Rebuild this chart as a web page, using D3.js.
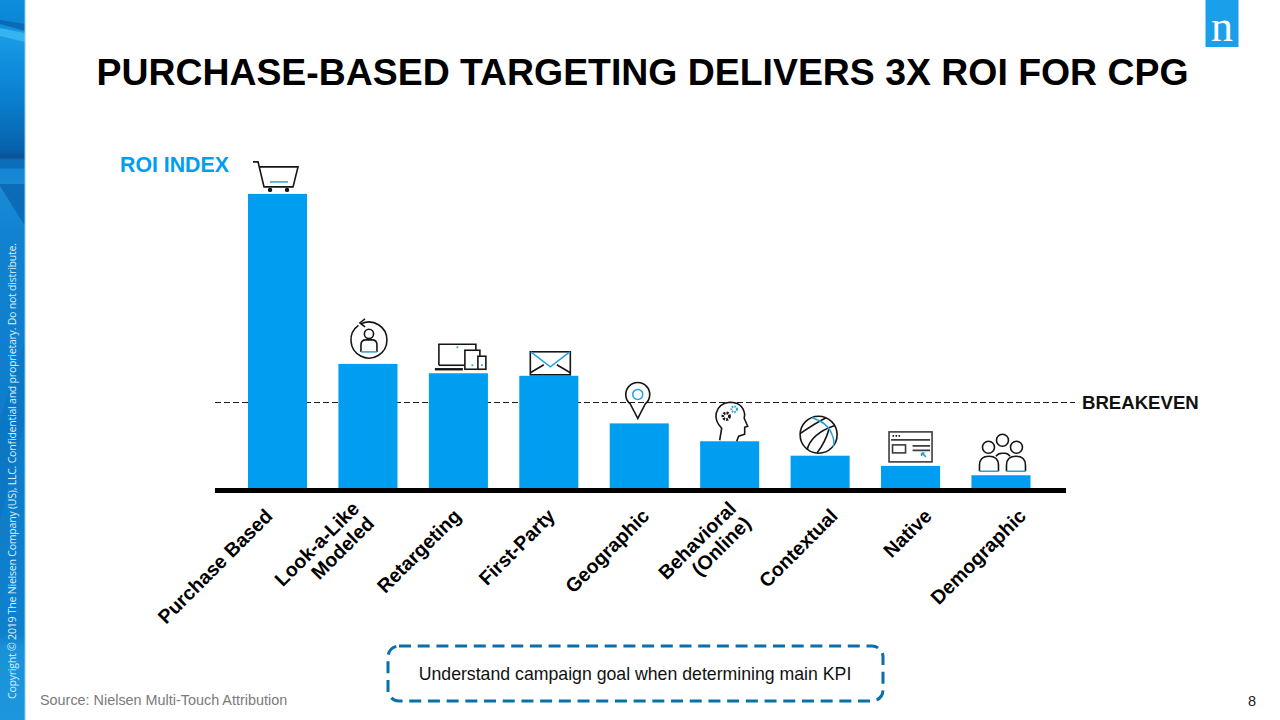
<!DOCTYPE html>
<html>
<head>
<meta charset="utf-8">
<script src="https://cdn.jsdelivr.net/npm/d3@7"></script>
<style>
html,body{margin:0;padding:0;background:#fff;}
svg{display:block;}
text{font-family:"Liberation Sans",Arial,sans-serif;}
</style>
</head>
<body>
<svg id="chart" width="1280" height="720"></svg>
<script>
// ROI index per targeting type; breakeven sits at 100
const categories = ["Purchase Based","Look-a-Like Modeled","Retargeting","First-Party","Geographic","Behavioral (Online)","Contextual","Native","Demographic"];
const roiValues = [346,146,135,132,76,55,38,26,15];
const categoryLines = [["Purchase Based"],["Look-a-Like","Modeled"],["Retargeting"],["First-Party"],["Geographic"],["Behavioral","(Online)"],["Contextual"],["Native"],["Demographic"]];
const iconNames = ["cart","person","devices","mail","pin","head","ball","page","group"];
const breakeven = 100;

const BLUE = "#009ef0";
const ICON_ACCENT = "#22a3dc";
const INK = "#161616";
const svg = d3.select("#chart");

// Left ribbon
const defs = svg.append("defs");
const grad = defs.append("linearGradient").attr("id","ribbon").attr("x1",0).attr("x2",0).attr("y1",0).attr("y2",1);
[[0,"#0e8edc"],[0.03,"#0b86d6"],[0.05,"#1a9be6"],[0.09,"#0f8edd"],[0.14,"#0a7fcd"],[0.21,"#0760ab"],[0.218,"#0a4f92"],[0.222,"#0c6db8"],[0.233,"#0c6db8"],[0.235,"#1485d2"],[0.26,"#1a8ad6"],[0.33,"#1182d0"],[0.6,"#0c7ccb"],[0.88,"#0e80cc"],[0.9,"#1a92d9"],[1,"#1c96dc"]]
  .forEach(([o,c]) => grad.append("stop").attr("offset",o).attr("stop-color",c));
svg.append("rect").attr("x",0).attr("y",0).attr("width",25).attr("height",720).attr("fill","url(#ribbon)");
svg.append("path").attr("d","M0 24 L25 31 L25 24 L0 20Z").attr("fill","#0a5ea6").attr("opacity",.7);
svg.append("path").attr("d","M0 28 L25 33 L25 42 L0 36Z").attr("fill","#42c0f5").attr("opacity",.7);
svg.append("path").attr("d","M0 184 H25 V226 L0 186Z").attr("fill","#0a66b2").attr("opacity",.85);
svg.append("path").attr("d","M0 420 L25 340 L25 420 L0 520Z").attr("fill","#0a6db5").attr("opacity",.3);
svg.append("rect").attr("x",24.500).attr("y",0).attr("width",1).attr("height",720).attr("fill","#8ccdf0");
svg.append("text")
  .attr("transform","translate(16,699) rotate(-90)")
  .attr("font-size",10.6).attr("fill","#d9effb")
  .style("font-family","'Open Sans',sans-serif")
  .attr("textLength",456)
  .text("Copyright © 2019 The Nielsen Company (US), LLC. Confidential and proprietary. Do not distribute.");

// Logo tile
svg.append("rect").attr("x",1205.500).attr("y",0).attr("width",33).attr("height",47).attr("fill","#1a9fea");
svg.append("text").attr("x",1222).attr("y",41).attr("text-anchor","middle")
  .attr("font-size",44).attr("fill","#fff").style("font-family","'Liberation Serif',serif").text("n");

// Title
svg.append("text").attr("x",642.500).attr("y",85).attr("text-anchor","middle")
  .attr("font-size",37.4).attr("font-weight",700).attr("fill","#000")
  .text("PURCHASE-BASED TARGETING DELIVERS 3X ROI FOR CPG");

// Scales
const x = d3.scaleBand().domain(categories).range([248,1030.5]).paddingInner(0.347).paddingOuter(0);
const y = d3.scaleLinear().domain([0,breakeven]).range([488,403]);
// The slanted labels fan out slightly wider than the bars
const labelX = d3.scalePoint().domain(categories).range([269.5,1023]);

// Axis labels, rotated and broken over lines where needed
const axisG = svg.append("g").attr("transform","translate(0,490)")
  .call(d3.axisBottom(x).tickSize(0).tickFormat(""));
axisG.select(".domain").remove();
axisG.selectAll(".tick").each(function(d,i){
  const dx = labelX(d) - (x(d) + x.bandwidth()/2);
  const t = d3.select(this).select("text")
    .attr("text-anchor","end").attr("fill","#000")
    .attr("font-size",19.6).attr("font-weight",700)
    .style("font-family","'Liberation Sans',sans-serif")
    .attr("transform",`translate(${dx},23) rotate(-45)`).attr("y",0).attr("dy",null);
  const lines = categoryLines[i];
  t.text(null);
  lines.forEach((ln,k) => t.append("tspan").attr("x",0).attr("y",(k-(lines.length-1)/2)*21+6).text(ln));
});

// Breakeven line runs behind the bars, nudged onto the pixel row
svg.append("line").attr("x1",215).attr("x2",1075).attr("y1",y(breakeven)-0.5).attr("y2",y(breakeven)-0.5)
  .attr("stroke","#1c1c1c").attr("stroke-width",1).attr("stroke-dasharray","6 3");
svg.append("text").attr("x",1082).attr("y",409).attr("font-size",18.6).attr("font-weight",700).attr("fill","#111").text("BREAKEVEN");

// Bars
svg.append("g").selectAll("rect").data(roiValues).join("rect")
  .attr("x",(d,i)=>x(categories[i])).attr("width",x.bandwidth())
  .attr("y",d=>y(d)).attr("height",d=>y(0)-y(d)).attr("fill",BLUE);

// Baseline
svg.append("rect").attr("x",215).attr("y",488).attr("width",851).attr("height",5).attr("fill","#000");

// Y heading
svg.append("text").attr("x",120).attr("y",172).attr("font-size",21.3).attr("font-weight",700).attr("fill",BLUE).text("ROI INDEX");

// Line icons, each drawn around the centre top of its bar
const icons = {
  cart(g){
    g.append("path").attr("d","M-24.500 -32 H-19.500 L-13.500 -7 H15.500 L20.500 -27 H-18.500").attr("class","k");
    g.append("path").attr("d","M-7.500 -12 H10.500").attr("class","a");
    g.append("circle").attr("cx",-7.500).attr("cy",-4).attr("r",2.200).attr("fill",INK);
    g.append("circle").attr("cx",9.500).attr("cy",-4).attr("r",2.200).attr("fill",INK);
  },
  person(g){
    g.append("path").attr("d","M-7 -40 A18 18 0 1 1 -9.500 -38.500").attr("class","k");
    g.append("path").attr("d","M-3 -45 L-8 -41 L-3 -37").attr("class","k");
    g.append("circle").attr("cx",1).attr("cy",-30).attr("r",4.600).attr("class","k");
    g.append("path").attr("d","M-7 -12 V-19 Q-7 -24 -2 -24 H4 Q9 -24 9 -19 V-12").attr("class","k");
    g.append("path").attr("d","M-7 -12 H9").attr("class","a");
  },
  devices(g){
    g.append("path").attr("d","M-19.500 -8 V-29 H17.500 V-23").attr("class","k");
    g.append("path").attr("d","M-19.500 -8 H6").attr("class","k");
    g.append("path").attr("d","M-23.500 -4 H4.500").attr("class","k").attr("data-w",2.400);
    g.append("rect").attr("x",6.500).attr("y",-23).attr("width",15).attr("height",19).attr("fill","#fff").attr("class","k");
    g.append("rect").attr("x",19.500).attr("y",-17).attr("width",8).attr("height",13).attr("fill","#fff").attr("class","k");
    g.append("circle").attr("cx",-1).attr("cy",-26).attr("r",1).attr("fill",ICON_ACCENT);
    g.append("circle").attr("cx",14).attr("cy",-8).attr("r",1).attr("fill",ICON_ACCENT);
    g.append("circle").attr("cx",23.500).attr("cy",-8).attr("r",1).attr("fill",ICON_ACCENT);
  },
  mail(g){
    g.append("rect").attr("x",-18.500).attr("y",-24).attr("width",40).attr("height",23).attr("class","k");
    g.append("path").attr("d","M-18.500 -3 L-5 -11 M21.500 -3 L8 -11").attr("class","k");
    g.append("path").attr("d","M-18 -24 L1.500 -9 L21 -24").attr("class","a");
  },
  pin(g){
    g.append("path").attr("d","M-1.500 -5 L-9 -19.500 A12 12 0 1 1 6 -19.500 Z").attr("class","k");
    g.append("circle").attr("cx",-1.500).attr("cy",-29).attr("r",5).attr("class","a");
  },
  head(g){
    g.append("path").attr("d","M-10 -1 L-8 -13 Q-15 -20 -13.500 -28 Q-11 -38 0 -39 Q13 -39 15 -27 L14.500 -23 L18 -15 L15 -14 L15 -7 L9 -5 L7 0").attr("class","k");
    g.append("circle").attr("cx",-3.500).attr("cy",-25).attr("r",3.300).attr("fill","none").attr("stroke",INK).attr("stroke-width",2.800).attr("stroke-dasharray","2 1.100");
    g.append("circle").attr("cx",4.500).attr("cy",-32).attr("r",2.800).attr("fill","none").attr("stroke",ICON_ACCENT).attr("stroke-width",2).attr("stroke-dasharray","1.600 1");
  },
  ball(g){
    g.append("circle").attr("cx",-1.500).attr("cy",-21).attr("r",18.500).attr("class","k");
    g.append("path").attr("d","M-20 -22 Q-6 -32 6 -38 M-13 -6 Q-9 -22 14 -30 M-3 -3 Q5 -13 9 -27").attr("class","k");
    g.append("path").attr("d","M-8 -38 Q8 -33 12 -21 Q15 -14 13 -9").attr("class","a");
  },
  page(g){
    g.append("rect").attr("x",-21.500).attr("y",-34).attr("width",43).attr("height",30).attr("class","k g");
    g.append("path").attr("d","M-18 -30 H-10").attr("class","k").style("stroke-dasharray","1.500 1.500");
    g.append("path").attr("d","M-19.500 -26 H19.500 M2 -20 H19.500 M2 -15.500 H19.500").attr("class","k g");
    g.append("rect").attr("x",-18).attr("y",-21).attr("width",13).attr("height",8).attr("class","k g");
    g.append("path").attr("d","M11 -13 L15.500 -9 M11 -13 H14 M11 -13 V-10").attr("class","a");
  },
  group(g){
    g.append("circle").attr("cx",-12.500).attr("cy",-28).attr("r",6).attr("class","k");
    g.append("circle").attr("cx",1.500).attr("cy",-35).attr("r",6).attr("class","k");
    g.append("circle").attr("cx",15.500).attr("cy",-28).attr("r",6).attr("class","k");
    g.append("path").attr("d","M-5 -19 Q-3 -22 1 -22 H4 Q7 -22 9 -19").attr("class","k");
    g.append("path").attr("d","M-21.500 -4 V-10 Q-21.500 -19 -12 -19 Q-2.500 -19 -2.500 -10 V-4").attr("class","k");
    g.append("path").attr("d","M5.500 -4 V-10 Q5.500 -19 15 -19 Q24.500 -19 24.500 -10 V-4").attr("class","k");
    g.append("path").attr("d","M-21.500 -4 H-2.500 M5.500 -4 H24.500").attr("class","a");
  }
};
const iconG = svg.append("g").selectAll("g").data(roiValues).join("g")
  .attr("transform",(d,i)=>`translate(${x(categories[i])+x.bandwidth()/2},${y(d)})`);
iconG.each(function(d,i){ icons[iconNames[i]](d3.select(this)); });
iconG.selectAll(".k").attr("fill",function(){return d3.select(this).attr("fill")||"none";}).attr("stroke",INK)
  .attr("stroke-width",function(){return d3.select(this).attr("data-w")||1.600;});
iconG.selectAll(".g").attr("stroke","#3c3c3c");
iconG.selectAll(".a").attr("fill","none").attr("stroke",ICON_ACCENT).attr("stroke-width",1.500);

// Callout
svg.append("rect").attr("x",388).attr("y",646).attr("width",495).attr("height",55).attr("rx",11)
  .attr("fill","none").attr("stroke","#0b6fa8").attr("stroke-width",3).attr("stroke-dasharray","12 6.700");
svg.append("text").attr("x",635).attr("y",680).attr("text-anchor","middle").attr("font-size",17.7).attr("fill","#111")
  .text("Understand campaign goal when determining main KPI");

// Footer
svg.append("text").attr("x",40).attr("y",705).attr("font-size",14.4).attr("fill","#7a7a7a").text("Source: Nielsen Multi-Touch Attribution");
svg.append("text").attr("x",1248).attr("y",706).attr("font-size",14.5).attr("fill","#222").text("8");
</script>
</body>
</html>
